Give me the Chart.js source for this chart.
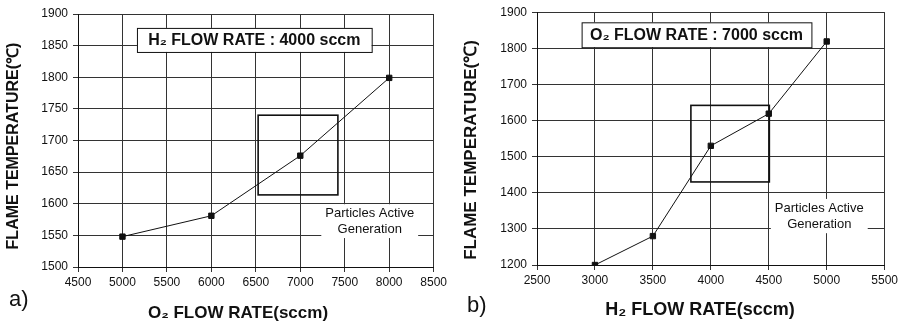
<!DOCTYPE html>
<html>
<head>
<meta charset="utf-8">
<script src="https://cdn.jsdelivr.net/npm/chart.js@4/dist/chart.umd.min.js"></script>
<style>
  html, body { margin: 0; padding: 0; background: #fff; }
  #wrap { position: relative; width: 901px; height: 321px; }
  #chartA { position: absolute; left: 0; top: 0; }
  #chartB { position: absolute; left: 450px; top: 0; }
</style>
</head>
<body>
<div id="wrap">
  <canvas id="chartA" width="450" height="321"></canvas>
  <canvas id="chartB" width="451" height="321"></canvas>
</div>
<script>
// panel a) : H2 fixed at 4000 sccm, O2 varied
const o2Flow = [5000, 6000, 7000, 8000];
const tempA = [1548, 1581, 1676, 1799];
const xRangeA = [4500, 8500];
const yRangeA = [1500, 1900];

// panel b) : O2 fixed at 7000 sccm, H2 varied
const h2Flow = [3000, 3500, 4000, 4500, 5000];
const tempB = [1200, 1280, 1530, 1619, 1819];
const xRangeB = [2500, 5500];
const yRangeB = [1200, 1900];

// "particles active generation" window (x0, x1, y0, y1 in data units)
const activeA = [6526, 7423, 1614, 1740];
const activeB = [3828, 4505, 1430, 1642];

const FONT = "'Liberation Sans', Arial, sans-serif";

// draws the annotation boxes, labels and axis titles
const overlay = {
  id: 'overlay',
  afterDraw(chart, args, o) {
    const ctx = chart.ctx;
    const xs = chart.scales.x, ys = chart.scales.y;
    const px = v => xs.getPixelForValue(v);
    const py = v => ys.getPixelForValue(v);
    ctx.save();

    // active region rectangle
    const b = o.active;
    ctx.strokeStyle = '#111';
    ctx.lineWidth = 1.6;
    ctx.strokeRect(px(b[0]), py(b[3]), px(b[1]) - px(b[0]), py(b[2]) - py(b[3]));

    // header box
    const h = o.header;
    const hx0 = px(h.x[0]), hx1 = px(h.x[1]), hy0 = py(h.y[1]), hy1 = py(h.y[0]);
    ctx.fillStyle = '#fff';
    ctx.fillRect(hx0, hy0, hx1 - hx0, hy1 - hy0);
    ctx.lineWidth = 1;
    ctx.strokeRect(hx0 + 0.5, hy0 + 0.5, hx1 - hx0, hy1 - hy0);
    ctx.fillStyle = '#111';
    ctx.font = 'bold ' + h.size + 'px ' + FONT;
    ctx.textAlign = 'center';
    ctx.textBaseline = 'middle';
    ctx.fillText(h.text, (hx0 + hx1) / 2, (hy0 + hy1) / 2 + 1);

    // note text on a white patch (grid is broken there in the original)
    ctx.font = '13px ' + FONT;
    const nx = px(o.note.x), ny0 = py(o.note.y[0]), ny1 = py(o.note.y[1]);
    const nw = ctx.measureText('Particles Active').width + 8;
    ctx.fillStyle = '#fff';
    ctx.fillRect(nx - nw / 2, ny0 - 9, nw, ny1 - ny0 + 18);
    ctx.fillStyle = '#111';
    ctx.fillText('Particles Active', nx, ny0);
    ctx.fillText('Generation', nx, ny1);

    // axis titles
    ctx.font = 'bold ' + o.xTitle.size + 'px ' + FONT;
    ctx.fillText(o.xTitle.text, o.xTitle.at[0], o.xTitle.at[1]);
    ctx.save();
    ctx.translate(o.yTitle.at[0], o.yTitle.at[1]);
    ctx.rotate(-Math.PI / 2);
    ctx.font = 'bold ' + o.yTitle.size + 'px ' + FONT;
    ctx.fillText('FLAME TEMPERATURE(\u2103)', 0, 0);
    ctx.restore();

    // panel letter
    ctx.font = '22px ' + FONT;
    ctx.textAlign = 'left';
    ctx.fillText(o.letter.text, o.letter.at[0], o.letter.at[1]);
    ctx.restore();
  }
};

function makeChart(id, xData, yData, xRange, yRange, xStep, yStep, pad, yWidth, xHeight, extra) {
  return new Chart(document.getElementById(id), {
    type: 'line',
    data: {
      datasets: [{
        data: xData.map((x, i) => ({ x: x, y: yData[i] })),
        borderColor: '#111',
        borderWidth: 1,
        backgroundColor: '#111',
        pointStyle: 'rect',
        pointRadius: 3.8,
        pointHoverRadius: 3.8,
        tension: 0
      }]
    },
    options: {
      responsive: false,
      animation: false,
      layout: { padding: pad },
      plugins: {
        legend: { display: false },
        tooltip: { enabled: false },
        overlay: extra
      },
      scales: {
        x: {
          type: 'linear',
          min: xRange[0], max: xRange[1],
          ticks: { stepSize: xStep, color: '#111', font: { family: FONT, size: 12 }, padding: 3, maxRotation: 0,
                   callback: v => String(v) },
          grid: { color: '#333', lineWidth: 1, tickLength: 5 },
          border: { color: '#111', width: 1 },
          afterFit(s) { s.height = xHeight; }
        },
        y: {
          min: yRange[0], max: yRange[1],
          ticks: { stepSize: yStep, color: '#111', font: { family: FONT, size: 12 }, padding: 5,
                   callback: v => String(v) },
          grid: { color: '#333', lineWidth: 1, tickLength: 5 },
          border: { color: '#111', width: 1 },
          afterFit(s) { s.width = yWidth; }
        }
      }
    },
    plugins: [overlay]
  });
}

makeChart('chartA', o2Flow, tempA, xRangeA, yRangeA, 500, 50,
  { top: 14, right: 16, left: 0, bottom: 0 }, 78, 54, {
    active: activeA,
    header: { x: [5163, 7803], y: [1840, 1878], text: 'H\u2082 FLOW RATE : 4000 sccm', size: 16 },
    note: { x: 7781, y: [1585, 1560] },
    xTitle: { text: 'O\u2082 FLOW RATE(sccm)', at: [238, 313], size: 17 },
    yTitle: { at: [14, 146], size: 16 },
    letter: { text: 'a)', at: [9, 300] }
  });

makeChart('chartB', h2Flow, tempB, xRangeB, yRangeB, 500, 100,
  { top: 12, right: 13, left: 0, bottom: 0 }, 87, 56, {
    active: activeB,
    header: { x: [2885, 4868], y: [1803, 1872], text: 'O\u2082 FLOW RATE : 7000 sccm', size: 16 },
    note: { x: 4936, y: [1358, 1313] },
    xTitle: { text: 'H\u2082 FLOW RATE(sccm)', at: [250, 310], size: 18 },
    yTitle: { at: [21, 150], size: 17 },
    letter: { text: 'b)', at: [17, 306] }
  });
</script>
</body>
</html>
